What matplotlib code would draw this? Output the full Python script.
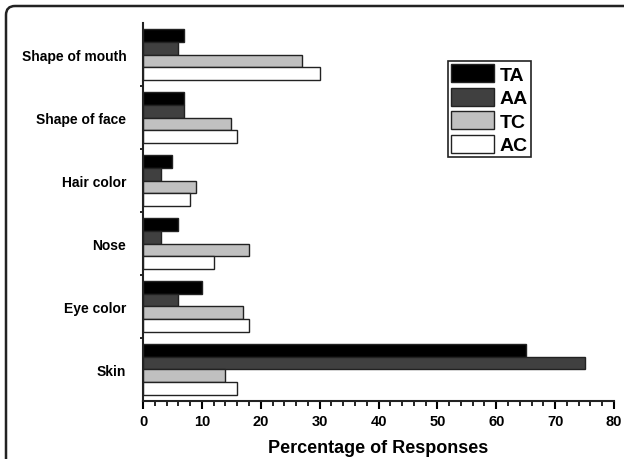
"""Horizontal grouped bars -- features noticed, percentage of responses"""

import numpy as np
import matplotlib.pyplot as plt
from matplotlib.patches import FancyBboxPatch

plt.rcParams['font.family'] = ['Liberation Sans', 'DejaVu Sans']
plt.rcParams['font.weight'] = 'bold'

categories = ['Skin', 'Eye color', 'Nose', 'Hair color', 'Shape of face', 'Shape of mouth']
groups = ['TA', 'AA', 'TC', 'AC']
ta = [65, 10, 6, 5, 7, 7]
aa = [75, 6, 3, 3, 7, 6]
tc = [14, 17, 18, 9, 15, 27]
ac = [16, 18, 12, 8, 16, 30]
colors = ['#000000', '#404040', '#c0c0c0', '#ffffff']

fig = plt.figure(figsize=(6.24, 4.6), dpi=100)
ax = fig.add_axes([0.2292, 0.1261, 0.7548, 0.8217])

# rounded frame round the whole figure, in pixels (cut off at right and bottom)
frame = FancyBboxPatch((6, -200), 900, 460 - 7 + 200,
                       boxstyle='round,pad=0,rounding_size=9',
                       transform=None, fill=False,
                       edgecolor='#222222', linewidth=1.8, clip_on=False)
fig.patches.append(frame)

y = np.arange(len(categories))
h = 0.206
offsets = [1.5 * h, 0.5 * h, -0.5 * h, -1.5 * h]
for vals, off, c, lab in zip([ta, aa, tc, ac], offsets, colors, groups):
    ax.barh(y + off, vals, height=h, color=c, edgecolor='#222222',
            linewidth=1.0, label=lab)

ax.set_xlim(0, 80)
ax.set_ylim(-0.5, 5.5)
ax.set_yticks(y)
ax.set_yticklabels(categories, fontsize=10, fontweight='bold')
ax.set_yticks(y[:-1] + 0.5, minor=True)
ax.tick_params(axis='y', which='major', length=0, pad=12)
ax.tick_params(axis='y', which='minor', length=2, width=1.2)
ax.set_xticks(np.arange(0, 81, 10))
ax.set_xticks(np.arange(0, 81, 2), minor=True)
ax.tick_params(axis='x', which='major', length=6, width=1.5, labelsize=10.5)
ax.tick_params(axis='x', which='minor', length=3.5, width=1.2)
for lbl in ax.get_xticklabels():
    lbl.set_fontweight('bold')

for s in ['top', 'right']:
    ax.spines[s].set_visible(False)
for s in ['left', 'bottom']:
    ax.spines[s].set_linewidth(1.5)
    ax.spines[s].set_color('#222222')

ax.set_xlabel('Percentage of Responses', fontsize=13, fontweight='bold', labelpad=8)

leg = ax.legend(loc='upper left', bbox_to_anchor=(0.6476, 0.899), borderaxespad=0,
                prop={'size': 14, 'weight': 'bold'}, handlelength=2.2,
                handleheight=1.05, labelspacing=0.2, handletextpad=0.3,
                fancybox=False, framealpha=1, borderpad=0.15)
leg.get_frame().set_edgecolor('#222222')
leg.get_frame().set_linewidth(1.2)

plt.savefig('out.png', dpi=100)
plt.close()
